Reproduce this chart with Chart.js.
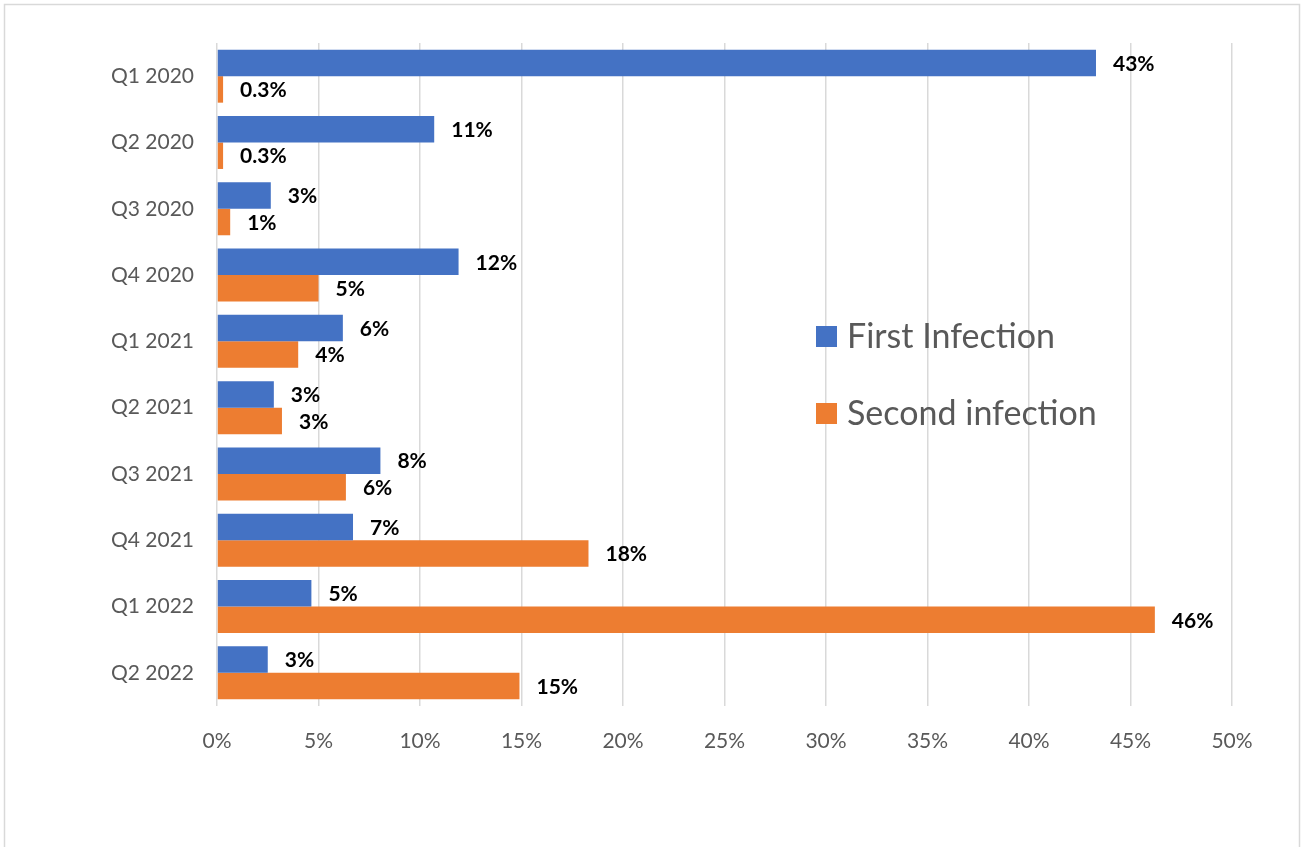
<!DOCTYPE html>
<html>
<head>
<meta charset="utf-8">
<script src="https://cdn.jsdelivr.net/npm/chart.js@4"></script>
<style>
  body { margin: 0; background: #fff; }
  canvas { display: block; }
</style>
</head>
<body>
<canvas id="infChart" width="1303" height="847"></canvas>
<script>
// Values (percent)
const quarters = ['Q1 2020', 'Q2 2020', 'Q3 2020', 'Q4 2020', 'Q1 2021', 'Q2 2021', 'Q3 2021', 'Q4 2021', 'Q1 2022', 'Q2 2022'];
const firstInfection = [43.3, 10.7, 2.65, 11.9, 6.2, 2.8, 8.05, 6.7, 4.65, 2.5];
const secondInfection = [0.3, 0.3, 0.65, 5.0, 4.0, 3.2, 6.35, 18.3, 46.2, 14.9];
const firstLabels = ['43%', '11%', '3%', '12%', '6%', '3%', '8%', '7%', '5%', '3%'];
const secondLabels = ['0.3%', '0.3%', '1%', '5%', '4%', '3%', '6%', '18%', '46%', '15%'];
const xTickLabels = ['0%', '5%', '10%', '15%', '20%', '25%', '30%', '35%', '40%', '45%', '50%'];

const FONT = 'Lato, Calibri, "Noto Sans", sans-serif';

// frame around the whole chart
const framePlugin = {
  id: 'frame',
  beforeDraw(chart) {
    const c = chart.ctx;
    c.save();
    c.fillStyle = '#fff';
    c.fillRect(0, 0, chart.width, chart.height);
    c.strokeStyle = '#d9d9d9';
    c.lineWidth = 1.5;
    c.strokeRect(4.5, 4.5, 1295, 900);
    c.restore();
  }
};

// value labels to the right of each bar
const barLabels = {
  id: 'barLabels',
  afterDatasetsDraw(chart) {
    const c = chart.ctx;
    const texts = [firstLabels, secondLabels];
    c.save();
    c.font = 'bold 21px ' + FONT;
    c.fillStyle = '#000';
    c.textBaseline = 'middle';
    c.textAlign = 'left';
    chart.data.datasets.forEach((ds, i) => {
      chart.getDatasetMeta(i).data.forEach((bar, j) => {
        c.fillText(texts[i][j], bar.x + 17, bar.y + 1);
      });
    });
    c.restore();
  }
};

// legend drawn inside the plot, right side
const insideLegend = {
  id: 'insideLegend',
  afterDraw(chart) {
    const c = chart.ctx;
    c.save();
    c.font = '34px ' + FONT;
    c.textBaseline = 'middle';
    const rows = [336, 413];
    chart.data.datasets.forEach((ds, i) => {
      c.fillStyle = ds.backgroundColor;
      c.fillRect(816, rows[i] - 10, 21, 21);
      c.fillStyle = '#595959';
      c.fillText(ds.label, 847, rows[i] + 1);
    });
    c.restore();
  }
};

const ctx = document.getElementById('infChart').getContext('2d');
const infChart = new Chart(ctx, {
  type: 'bar',
  data: {
    labels: quarters,
    datasets: [
      {
        label: 'First Infection',
        data: firstInfection,
        backgroundColor: '#4472C4',
        categoryPercentage: 0.8,
        barPercentage: 1.0
      },
      {
        label: 'Second infection',
        data: secondInfection,
        backgroundColor: '#ED7D31',
        categoryPercentage: 0.8,
        barPercentage: 1.0
      }
    ]
  },
  options: {
    indexAxis: 'y',
    responsive: false,
    animation: false,
    layout: { padding: { left: 0, top: 43, right: 71, bottom: 0 } },
    plugins: {
      legend: { display: false },
      tooltip: { enabled: false }
    },
    scales: {
      x: {
        min: 0,
        max: 50,
        afterFit(scale) { scale.height = 141; },
        border: { display: false },
        grid: { color: '#d9d9d9', lineWidth: 1.5, drawTicks: false },
        ticks: {
          stepSize: 5,
          padding: 23,
          color: '#595959',
          font: { family: FONT, size: 21 },
          callback: (v, i) => xTickLabels[i]
        }
      },
      y: {
        afterFit(scale) { scale.width = 217; },
        border: { display: false },
        grid: { display: false, drawTicks: false },
        ticks: {
          padding: 23,
          color: '#595959',
          font: { family: FONT, size: 21 }
        }
      }
    }
  },
  plugins: [framePlugin, barLabels, insideLegend]
});
</script>
</body>
</html>
